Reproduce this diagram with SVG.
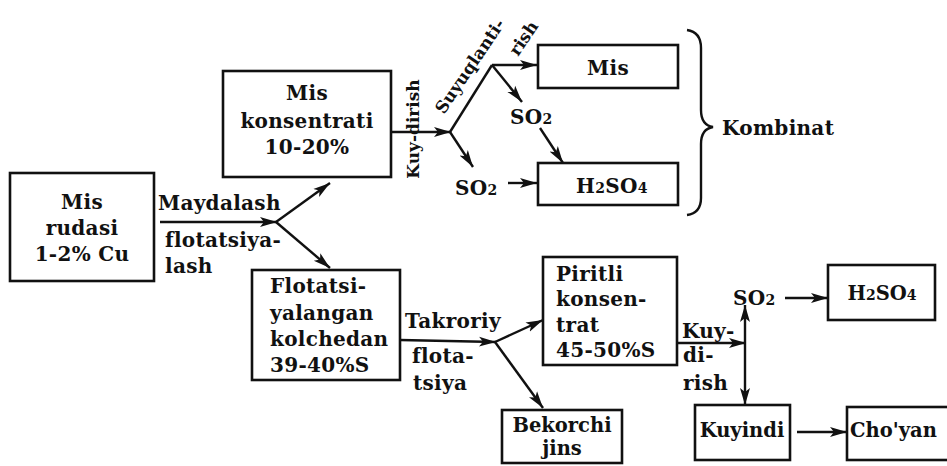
<svg xmlns="http://www.w3.org/2000/svg" width="947" height="466" viewBox="0 0 947 466">
<defs>
<marker id="ah" markerUnits="userSpaceOnUse" markerWidth="18" markerHeight="12" refX="17" refY="6" orient="auto-start-reverse">
<path d="M0,1 L17,6 L0,11 L4,6 Z" fill="#111"/>
</marker>
</defs>
<style>
.box{fill:#fff;stroke:#111;stroke-width:2.6}
.t{font-family:"DejaVu Serif","Liberation Serif",serif;font-size:20px;font-weight:bold;fill:#111;letter-spacing:0.3px}
.s{font-family:"DejaVu Serif","Liberation Serif",serif;font-size:19.5px;font-weight:bold;fill:#111}
.r{font-family:"DejaVu Serif","Liberation Serif",serif;font-size:17px;font-weight:bold;fill:#111}
.c{text-anchor:middle}
.ln{fill:none;stroke:#111;stroke-width:2.4}
.ar{fill:none;stroke:#111;stroke-width:2.4;marker-end:url(#ah)}
.sub{font-size:14px}
</style>
<rect width="947" height="466" fill="#fff"/>

<g id="connectors">
<path class="ar" d="M160,222 L277,222"/>
<path class="ar" d="M276,222 L330,183"/>
<path class="ar" d="M276,222 L330,268"/>
<path class="ar" d="M391,132 L451,132"/>
<path class="ln" d="M450,132 L492,65"/>
<path class="ar" d="M492,65 L537,65"/>
<path class="ar" d="M492,65 L522,102"/>
<path class="ar" d="M450,132 L473,167"/>
<path class="ar" d="M540,128 L563,163"/>
<path class="ar" d="M508,183 L537,183"/>
<path class="ar" d="M400,340 L496,342"/>
<path class="ar" d="M495,342 L543,320"/>
<path class="ar" d="M495,342 L543,408"/>
<path class="ar" d="M677,343 L746,343"/>
<path class="ln" d="M745,305 L745,405" marker-start="url(#ah)" marker-end="url(#ah)"/>
<path class="ar" d="M785,298 L828,298"/>
<path class="ar" d="M797,432 L847,432"/>
<path class="ln" d="M687,30 Q701,32 701,48 L701,110 Q701,125 713,127 Q701,129 701,144 L701,198 Q701,213 687,215"/>
<text class="t" x="158" y="210">Maydalash</text>
<text class="t" x="165" y="247">flotatsiya-</text>
<text class="t" x="165" y="273">lash</text>
<text class="r" transform="translate(419,129) rotate(-90)" text-anchor="middle">Kuy-dirish</text>
<text class="r" transform="translate(444,115) rotate(-56)">Suyuqlanti-</text>
<text class="r" transform="translate(518,57) rotate(-56)">rish</text>
<text class="t" x="722" y="135">Kombinat</text>
<text class="t" x="405" y="328">Takroriy</text>
<text class="t" x="412" y="363">flota-</text>
<text class="t" x="413" y="390">tsiya</text>
<text class="t" x="682" y="338">Kuy-</text>
<text class="t" x="683" y="362">di-</text>
<text class="t" x="683" y="390">rish</text>
<text class="t" x="510" y="124">SO<tspan class="sub">2</tspan></text>
<text class="t" x="455" y="195">SO<tspan class="sub">2</tspan></text>
<text class="t" x="733" y="305">SO<tspan class="sub">2</tspan></text>
</g>

<g id="mis-rudasi">
<rect class="box" x="10" y="173" width="144" height="108"/>
<text class="t c" x="82" y="209">Mis</text>
<text class="t c" x="82" y="235">rudasi</text>
<text class="t c" x="82" y="261">1-2% Cu</text>
</g>
<g id="mis-konsentrati">
<rect class="box" x="223" y="71" width="168" height="106"/>
<text class="t c" x="307" y="100">Mis</text>
<text class="t c" x="307" y="128">konsentrati</text>
<text class="t c" x="307" y="154">10-20%</text>
</g>
<g id="flotatsi">
<rect class="box" x="252" y="270" width="148" height="110"/>
<text class="t" x="270" y="293">Flotatsi-</text>
<text class="t" x="270" y="320">yalangan</text>
<text class="t" x="270" y="346">kolchedan</text>
<text class="t" x="270" y="372">39-40%S</text>
</g>
<g id="mis">
<rect class="box" x="538" y="45" width="140" height="43"/>
<text class="t c" x="608" y="75">Mis</text>
</g>
<g id="h2so4-top">
<rect class="box" x="538" y="163" width="140" height="42"/>
<text class="t c" x="612" y="193">H<tspan class="sub">2</tspan>SO<tspan class="sub">4</tspan></text>
</g>
<g id="piritli">
<rect class="box" x="543" y="257" width="134" height="108"/>
<text class="t" x="556" y="281">Piritli</text>
<text class="t" x="556" y="306">konsen-</text>
<text class="t" x="556" y="332">trat</text>
<text class="t" x="556" y="357">45-50%S</text>
</g>
<g id="bekorchi">
<rect class="box" x="502" y="410" width="120" height="53"/>
<text class="s c" x="562" y="432">Bekorchi</text>
<text class="s c" x="562" y="455">jins</text>
</g>
<g id="h2so4-right">
<rect class="box" x="828" y="265" width="107" height="55"/>
<text class="s c" x="882" y="300">H<tspan class="sub">2</tspan>SO<tspan class="sub">4</tspan></text>
</g>
<g id="kuyindi">
<rect class="box" x="695" y="405" width="95" height="55"/>
<text class="s c" x="742" y="437">Kuyindi</text>
</g>
<g id="choyan">
<rect class="box" x="847" y="407" width="106" height="53"/>
<text class="s" x="850" y="437">Cho'yan</text>
</g>
</svg>
